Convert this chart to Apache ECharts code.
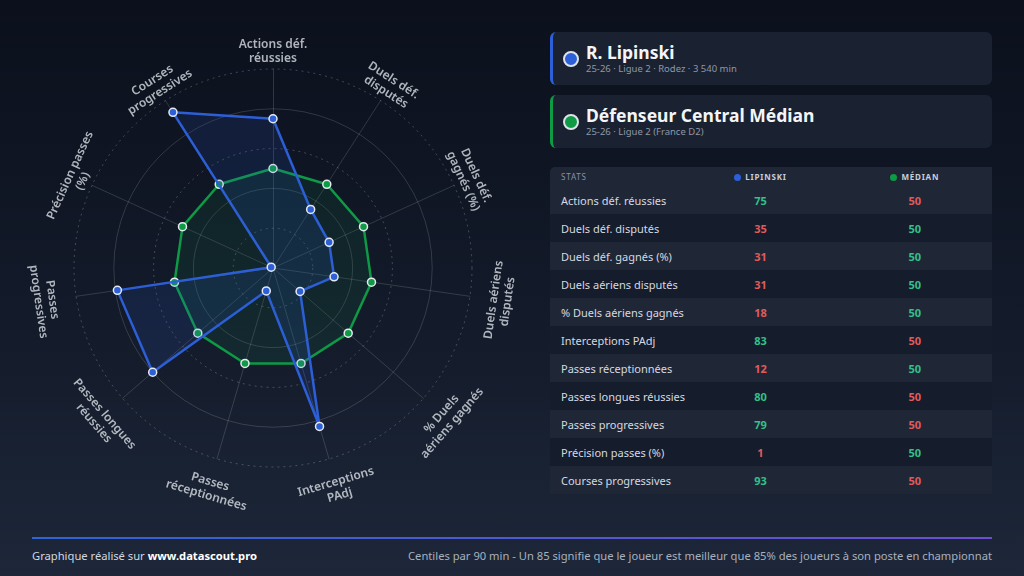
<!DOCTYPE html>
<html>
<head>
<meta charset="utf-8">
<script src="https://cdn.jsdelivr.net/npm/echarts@6/dist/echarts.min.js"></script>
<style>
  html, body { margin: 0; padding: 0; }
  body {
    width: 1024px; height: 576px; overflow: hidden; position: relative;
    background: linear-gradient(180deg, #0b101c 0%, #121928 50%, #1d2739 100%);
    font-family: "Noto Sans", "Open Sans", sans-serif;
  }
  #radar { position: absolute; left: 0; top: 0; width: 540px; height: 520px; }
  .card {
    position: absolute; left: 550px; width: 442px; height: 53px;
    background: #1a2130; border-radius: 6px; border-left: 3px solid #2d5fd6;
    box-sizing: border-box;
  }
  .card .dot {
    position: absolute; left: 10px; top: 19px; width: 12px; height: 12px;
    border-radius: 50%; border: 2px solid #dfe4ec;
  }
  .card .name { position: absolute; left: 33px; top: 10px; color: #f3f5f8; font-weight: 700; font-size: 17.5px; line-height: 20px; }
  .card .sub { position: absolute; left: 33px; top: 31px; color: #8f98a8; font-size: 9.5px; line-height: 12px; }
  table {
    position: absolute; left: 550px; top: 167px; width: 442px;
    border-collapse: collapse; font-size: 11px; table-layout: fixed;
  }
  th { height: 19px; background: #1f2737; padding: 0; font-size: 8px; letter-spacing: 0.8px; }
  th.lab { text-align: left; padding-left: 11px; color: #8a93a3; font-weight: 400; width: 122px; border-radius: 5px 0 0 0; }
  th.val { color: #c9ced8; font-weight: 700; width: 154px; }
  th .d { display: inline-block; width: 7px; height: 7px; border-radius: 50%; margin-right: 4px; vertical-align: -1px; }
  td { height: 28px; padding: 0; white-space: nowrap; }
  td.lab { padding-left: 11px; color: #d5d9e0; }
  td.val { text-align: center; font-weight: 700; }
  tr.odd td { background: #1f2737; }
  tr.even td { background: #151c2b; }
  .up { color: #33c08a; }
  .down { color: #e05b5b; }
  #line {
    position: absolute; left: 32px; top: 537px; width: 960px; height: 2px;
    background: linear-gradient(90deg, #2f63d6, #6c4fd0);
  }
  .foot { position: absolute; top: 549px; font-size: 11.2px; line-height: 14px; }
  .foot.l { left: 32px; color: #d3d8e0; }
  .foot.l b { color: #ffffff; }
  .foot.r { right: 32px; color: #a9b1bf; }
</style>
</head>
<body>
<div id="radar"></div>

<div class="card" style="top:32px;border-left-color:#2d5fd6">
  <div class="dot" style="background:#2d5fd6"></div>
  <div class="name">R. Lipinski</div>
  <div class="sub">25-26 · Ligue 2 · Rodez · 3 540 min</div>
</div>
<div class="card" style="top:95px;border-left-color:#0f9a45">
  <div class="dot" style="background:#0f9a45"></div>
  <div class="name">Défenseur Central Médian</div>
  <div class="sub">25-26 · Ligue 2 (France D2)</div>
</div>

<table id="tbl"></table>

<div id="line"></div>
<div class="foot l">Graphique réalisé sur <b>www.datascout.pro</b></div>
<div class="foot r">Centiles par 90 min - Un 85 signifie que le joueur est meilleur que 85% des joueurs à son poste en championnat</div>

<script>
// stats, dans l'ordre du tableau (sens horaire sur le radar à partir du haut)
var stats = ['Actions déf. réussies', 'Duels déf. disputés', 'Duels déf. gagnés (%)', 'Duels aériens disputés',
  '% Duels aériens gagnés', 'Interceptions PAdj', 'Passes réceptionnées', 'Passes longues réussies',
  'Passes progressives', 'Précision passes (%)', 'Courses progressives'];
// libellés autour du radar
var axisLabels = ['Actions déf.\nréussies', 'Duels déf.\ndisputés', 'Duels déf.\ngagnés (%)', 'Duels aériens\ndisputés',
  '% Duels\naériens gagnés', 'Interceptions\nPAdj', 'Passes\nréceptionnées', 'Passes longues\nréussies',
  'Passes\nprogressives', 'Précision passes\n(%)', 'Courses\nprogressives'];
var lipinski = [75, 35, 31, 31, 18, 83, 12, 80, 79, 1, 93];
var median = [50, 50, 50, 50, 50, 50, 50, 50, 50, 50, 50];

var BLUE = '#2d5fd6', GREEN = '#0f9a45';

// tableau
var html = '<tr><th class="lab">STATS</th><th class="val"><span class="d" style="background:' + BLUE + '"></span>LIPINSKI</th>' +
  '<th class="val"><span class="d" style="background:' + GREEN + '"></span>MÉDIAN</th></tr>';
stats.forEach(function (s, i) {
  var a = lipinski[i], b = median[i];
  html += '<tr class="' + (i % 2 ? 'even' : 'odd') + '"><td class="lab">' + s + '</td>' +
    '<td class="val ' + (a > b ? 'up' : 'down') + '">' + a + '</td>' +
    '<td class="val ' + (b > a ? 'up' : 'down') + '">' + b + '</td></tr>';
});
document.getElementById('tbl').innerHTML = html;

// le radar echarts tourne dans le sens anti-horaire : on inverse l'ordre (sauf le premier)
var order = [0];
for (var k = stats.length - 1; k > 0; k--) order.push(k);
var indicators = order.map(function (i) { return { name: stats[i], max: 100 }; });

var n = stats.length;
// rotation tangentielle des libellés
function labelRotate(i) {
  var a = i * 360 / n;
  if (a <= 90) return -a;
  if (a >= 270) return 360 - a;
  return 180 - a;
}

var CENTER = [273, 268];
var dashCol = 'rgba(255,255,255,0.22)', solidCol = 'rgba(255,255,255,0.15)', none = 'rgba(0,0,0,0)';

var chart = echarts.init(document.getElementById('radar'));
chart.setOption({
  animation: false,
  radar: [{
    center: CENTER, radius: 199, shape: 'circle', splitNumber: 5,
    indicator: indicators,
    axisName: { show: false },
    axisLine: { lineStyle: { color: 'rgba(255,255,255,0.15)', width: 1 } },
    splitArea: { show: false },
    splitLine: { lineStyle: { color: [none, dashCol, none, dashCol, none, dashCol], type: [2, 4], width: 1 } }
  }, {
    center: CENTER, radius: 199, shape: 'circle', splitNumber: 5,
    indicator: indicators,
    axisName: { show: false },
    axisLine: { show: false },
    splitArea: { show: false },
    splitLine: { lineStyle: { color: [none, none, solidCol, none, solidCol, none], width: 1 } }
  }],
  polar: { center: CENTER, radius: 223 },
  angleAxis: { type: 'value', min: 0, max: n, startAngle: 90, clockwise: true, show: false },
  radiusAxis: { min: 0, max: 100, show: false },
  series: [{
    type: 'radar', radarIndex: 0, z: 2,
    symbol: 'circle', symbolSize: 8,
    lineStyle: { color: GREEN, width: 2.5 },
    itemStyle: { color: GREEN, borderColor: '#e6eaf0', borderWidth: 1.5 },
    areaStyle: { color: 'rgba(20,150,80,0.16)' },
    data: [{ value: order.map(function (i) { return median[i]; }), name: 'Médian' }]
  }, {
    type: 'radar', radarIndex: 0, z: 3,
    symbol: 'circle', symbolSize: 8,
    lineStyle: { color: BLUE, width: 2.5 },
    itemStyle: { color: BLUE, borderColor: '#e6eaf0', borderWidth: 1.5 },
    areaStyle: { color: 'rgba(45,95,214,0.2)' },
    data: [{ value: order.map(function (i) { return lipinski[i]; }), name: 'R. Lipinski' }]
  }, {
    type: 'scatter', coordinateSystem: 'polar', silent: true,
    symbolSize: 1, itemStyle: { color: none },
    label: {
      show: true, position: 'inside', color: '#dadee5', fontSize: 12, fontWeight: 600, lineHeight: 14,
      fontFamily: 'Noto Sans', align: 'center', verticalAlign: 'middle',
      // ligne vide en tête : la première ligne du libellé reste sur le cercle
      formatter: function (p) { return ' \n' + axisLabels[p.dataIndex]; }
    },
    data: axisLabels.map(function (s, i) {
      return { value: [100, i], label: { rotate: labelRotate(i) } };
    })
  }]
});
</script>
</body>
</html>
